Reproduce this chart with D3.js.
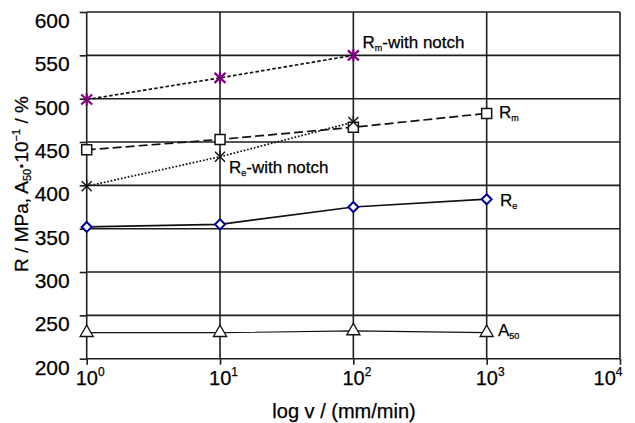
<!DOCTYPE html>
<html><head><meta charset="utf-8">
<script src="https://cdn.jsdelivr.net/npm/d3@7"></script>
<style>
body{margin:0;background:#fff;}
text{font-family:"Liberation Sans",Arial,sans-serif;fill:#000;stroke:#000;stroke-width:0.25px;}
</style></head>
<body><svg id="c" width="635" height="423"></svg>
<script>
const speeds = [1, 10, 100, 1000];
const xTicks = [1, 10, 100, 1000, 10000];
const xTickExp = ["0", "1", "2", "3", "4"];
const yTicks = [200, 250, 300, 350, 400, 450, 500, 550, 600];
const rmNotch = [499, 524, 550];
const reNotch = [399, 433, 473];
const rm = [441, 453, 467, 483];
const re = [352, 355, 375, 384];
const a50 = [230, 230, 232, 230];

const svg = d3.select("#c");
const x = d3.scaleLog().domain([1, 1e4]).range([86.7, 620]);
const y = d3.scaleLinear().domain([200, 600]).range([358.7, 12]);
const ink = "#1e1e1e";
const ff = '"Liberation Sans",Arial,sans-serif';

// grid
const g = svg.append("g");
g.selectAll("line.h").data(yTicks).join("line")
  .attr("x1", x(1)).attr("x2", x(1e4))
  .attr("y1", d => y(d)).attr("y2", d => y(d))
  .attr("stroke", ink).attr("stroke-width", 1.6);
g.selectAll("line.v").data(xTicks).join("line")
  .attr("y1", y(200)).attr("y2", y(600))
  .attr("x1", d => x(d)).attr("x2", d => x(d))
  .attr("stroke", ink).attr("stroke-width", 1.6);

// axes
const ya = svg.append("g").attr("transform", `translate(${x(1)},0)`)
  .call(d3.axisLeft(y).tickValues(yTicks).tickSize(7).tickPadding(10).tickFormat(d3.format("d")));
ya.select(".domain").remove();
ya.selectAll("line").attr("stroke", ink).attr("stroke-width", 1.6);
ya.selectAll("text").attr("dy", 15.5).attr("font-size", 21).attr("fill", "#000")
  .style("font-family", ff);

const xa = svg.append("g").attr("transform", `translate(0,${y(200)})`)
  .call(d3.axisBottom(x).tickValues(xTicks).tickSize(6).tickFormat(""));
xa.select(".domain").remove();
xa.selectAll("line").attr("stroke", ink).attr("stroke-width", 1.6);
xa.selectAll(".tick").each(function(d, i) {
  const t = d3.select(this).append("text")
    .attr("y", 26).attr("fill", "#000").attr("font-size", 20)
    .style("font-family", ff)
    .attr("text-anchor", i === xTicks.length - 1 ? "end" : "middle")
    .attr("x", i === xTicks.length - 1 ? 2 : 3);
  t.append("tspan").text("10");
  t.append("tspan").attr("font-size", 12).attr("dy", -9).text(xTickExp[i]);
});

// axis titles
svg.append("text").attr("x", 344).attr("y", 418).attr("text-anchor", "middle")
  .attr("font-size", 20).text("log v / (mm/min)");
const yt = svg.append("text").attr("transform", "translate(28,184) rotate(-90)")
  .attr("text-anchor", "middle").attr("font-size", 19);
yt.append("tspan").text("R / MPa, A");
yt.append("tspan").attr("font-size", 11).attr("dy", 3).text("50");
yt.append("tspan").attr("dy", -3).attr("font-weight", "bold").text("·");
yt.append("tspan").text("10");
yt.append("tspan").attr("font-size", 11).attr("dy", -8).text("−1");
yt.append("tspan").attr("dy", 8).text(" / %");

// lines
const line = d3.line().x(d => x(d[0])).y(d => y(d[1]));
const pts = (vals) => vals.map((v, i) => [speeds[i], v]);
function drawLine(vals, dash, w) {
  svg.append("path").datum(pts(vals)).attr("d", line).attr("fill", "none")
    .attr("stroke", "#111").attr("stroke-width", w).attr("stroke-dasharray", dash);
}
drawLine(a50, null, 1.2);
drawLine(re, null, 1.7);
drawLine(reNotch, "1.7,1.8", 1.7);
drawLine(rm, "9,4", 1.7);
drawLine(rmNotch, "3.5,2.2", 1.7);

// markers
const sym = (vals, type, size, fill, stroke, sw) => {
  svg.append("g").selectAll("path").data(pts(vals)).join("path")
    .attr("transform", d => `translate(${x(d[0])},${y(d[1])})`)
    .attr("d", d3.symbol().type(type).size(size)())
    .attr("fill", fill).attr("stroke", stroke).attr("stroke-width", sw);
};
sym(a50, d3.symbolTriangle, 75, "#fff", "#111", 1.3);
// diamond
svg.append("g").selectAll("path").data(pts(re)).join("path")
  .attr("transform", d => `translate(${x(d[0])},${y(d[1])})`)
  .attr("d", "M0,-5L5,0L0,5L-5,0Z")
  .attr("fill", "#fff").attr("stroke", "#000099").attr("stroke-width", 2);
sym(rm, d3.symbolSquare, 100, "#fff", "#111", 1.5);
// x markers
svg.append("g").selectAll("path").data(pts(reNotch)).join("path")
  .attr("transform", d => `translate(${x(d[0])},${y(d[1])})`)
  .attr("d", "M-5,-5L5,5M-5,5L5,-5M0,-6L0,-2")
  .attr("fill", "none").attr("stroke", "#111").attr("stroke-width", 1.4);
// asterisk markers
svg.append("g").selectAll("path").data(pts(rmNotch)).join("path")
  .attr("transform", d => `translate(${x(d[0])},${y(d[1])})`)
  .attr("d", "M-5.5,-5L5.5,5M-5.5,5L5.5,-5M0,-6L0,6")
  .attr("fill", "none").attr("stroke", "#800080").attr("stroke-width", 2.2);

// labels
function label(xp, yp, main, sub, rest) {
  const t = svg.append("text").attr("x", xp).attr("y", yp).attr("font-size", 17);
  t.append("tspan").text(main);
  t.append("tspan").attr("font-size", 9).attr("dy", 3).text(sub);
  if (rest) t.append("tspan").attr("dy", -3).text(rest);
}
label(362.5, 48, "R", "m", "-with notch");
label(229, 173, "R", "e", "-with notch");
label(499, 118, "R", "m", null);
label(500, 205.5, "R", "e", null);
label(498, 336, "A", "50", null);
</script></body></html>
